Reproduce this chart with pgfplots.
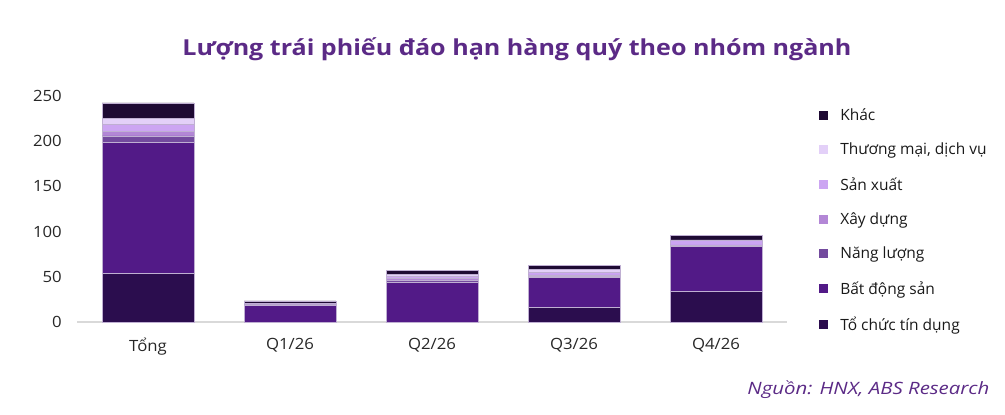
\documentclass[border=0pt]{standalone}
\usepackage{fontspec}
\setmainfont{Open Sans}
\newfontfamily\titlefont[FakeStretch=1.14]{Open Sans}
\newfontfamily\srcfont[FakeStretch=1.2]{Open Sans}
\newfontfamily\tickfont[FakeStretch=1.08]{Open Sans}
\usepackage{pgfplots}
\pgfplotsset{compat=1.18}
\definecolor{ctctd}{HTML}{2B0D4E}
\definecolor{cbds}{HTML}{521A87}
\definecolor{cnl}{HTML}{734A9E}
\definecolor{cxd}{HTML}{B387D6}
\definecolor{csx}{HTML}{CCA5F2}
\definecolor{ctm}{HTML}{E3D0F8}
\definecolor{ckhac}{HTML}{1E0A33}
\definecolor{ctitle}{HTML}{5B2A86}
\definecolor{cedge}{HTML}{BFAFD2}
\definecolor{caxis}{HTML}{D9D9D9}
\begin{document}
\begin{tikzpicture}
\path[use as bounding box] (0pt,0pt) rectangle (1005pt,415pt);
\node[font=\titlefont\fontsize{22}{26}\selectfont\bfseries, text=ctitle] at (517pt,366pt) {Lượng trái phiếu đáo hạn hàng quý theo nhóm ngành};
\node[font=\srcfont\fontsize{17}{20}\selectfont\itshape, text=ctitle, anchor=east] at (993pt,25pt) {Nguồn: HNX, ABS Research};
\begin{axis}[
  at={(148pt,93pt)}, anchor=origin,
  scale only axis, width=710pt, height=226pt,
  xmin=-0.5, xmax=4.5, ymin=0, ymax=250,
  ybar stacked, bar width=0.645,
  axis x line*=bottom, axis y line*=left,
  x axis line style={draw=caxis, line width=1.2pt},
  y axis line style={draw=none},
  xtick={0,1,2,3,4},
  xticklabels={Tổng, Q1/26, Q2/26, Q3/26, Q4/26},
  major tick length=0pt,
  ytick={0,50,100,150,200,250},
  every tick label/.append style={font=\tickfont\fontsize{15.5}{18}\selectfont, text=black!85},
  /pgf/number format/assume math mode=true,
  xticklabel style={inner sep=8pt, yshift=-8pt},
  yticklabel style={inner sep=0pt, xshift=-15pt},
  clip=false,
  legend style={at={(1.041,0.953)}, anchor=north west, draw=none, fill=none,
    font=\fontsize{15.5}{19}\selectfont, row sep=21pt,
    nodes={inner sep=0pt, anchor=west, text=black!90}},
  legend cell align=left,
  reverse legend,
  legend image code/.code={\fill[#1,draw=none] (0pt,-4.5pt) rectangle (9pt,4.5pt);},
]
\addplot[fill=ctctd, draw=cedge, line width=0.5pt] coordinates {(0,54) (1,0) (2,0) (3,16.5) (4,34)};
\addlegendentry{\hspace{12pt}Tổ chức tín dụng}
\addplot[fill=cbds, draw=cedge, line width=0.5pt] coordinates {(0,145) (1,18) (2,43.5) (3,32.5) (4,50)};
\addlegendentry{\hspace{12pt}Bất động sản}
\addplot[fill=cnl, draw=cedge, line width=0.5pt] coordinates {(0,7) (1,1) (2,2.5) (3,1.5) (4,0.6)};
\addlegendentry{\hspace{12pt}Năng lượng}
\addplot[fill=cxd, draw=cedge, line width=0.5pt] coordinates {(0,4.5) (1,0.5) (2,2) (3,1.5) (4,0.6)};
\addlegendentry{\hspace{12pt}Xây dựng}
\addplot[fill=csx, draw=cedge, line width=0.5pt] coordinates {(0,8) (1,0.5) (2,2.5) (3,3) (4,5)};
\addlegendentry{\hspace{12pt}Sản xuất}
\addplot[fill=ctm, draw=cedge, line width=0.5pt] coordinates {(0,7) (1,0.5) (2,2.5) (3,3.2) (4,0.7)};
\addlegendentry{\hspace{12pt}Thương mại, dịch vụ}
\addplot[fill=ckhac, draw=cedge, line width=0.5pt] coordinates {(0,17) (1,3) (2,4.5) (3,4.4) (4,5.2)};
\addlegendentry{\hspace{12pt}Khác}
\end{axis}
\end{tikzpicture}
\end{document}
